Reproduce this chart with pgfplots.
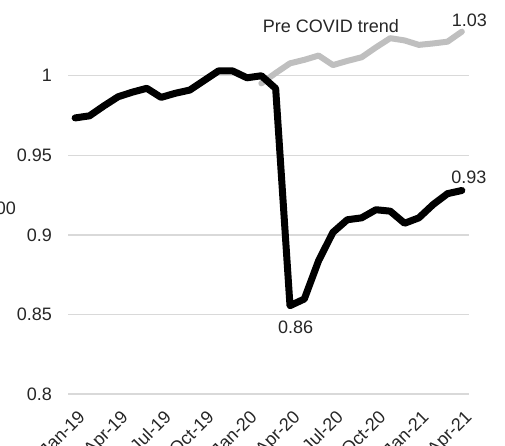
\documentclass[border=0pt]{standalone}
\usepackage{pgfplots}
\pgfplotsset{compat=1.18}
\usepackage{fontspec}
\setmainfont{Liberation Sans}

\definecolor{gridGray}{HTML}{D9D9D9}
\definecolor{trendGray}{HTML}{BFBFBF}
\definecolor{txt}{HTML}{262626}

\begin{document}
\begin{tikzpicture}
\begin{axis}[
  at={(68pt,51pt)}, anchor=south west,
  scale only axis,
  width=401pt, height=394pt,
  xmin=-0.5, xmax=27.5,
  ymin=0.8, ymax=1.0476,
  clip=false,
  axis line style={draw=none},
  major tick style={draw=none},
  ymajorgrids,
  major grid style={gridGray, line width=1.5pt},
  ytick={0.8,0.85,0.9,0.95,1},
  yticklabels={0.8,0.85,0.9,0.95,1},
  yticklabel style={anchor=east, inner sep=0pt, xshift=-16pt, text=txt},
  xtick={0,3,...,27},
  xticklabels={Jan-19,Apr-19,Jul-19,Oct-19,Jan-20,Apr-20,Jul-20,Oct-20,Jan-21,Apr-21},
  xticklabel style={xshift=2pt, yshift=-15pt, rotate=45, anchor=north east, inner sep=0pt, text=txt},
  font=\fontsize{18}{21}\selectfont,
]

% pre-COVID trend (grey)
\addplot[trendGray, line width=6pt, line join=round, line cap=round] coordinates {
  (13,0.9952) (14,1.0017) (15,1.0078) (16,1.0100) (17,1.0127) (18,1.0067)
  (19,1.0093) (20,1.0116) (21,1.0178) (22,1.0236) (23,1.0222) (24,1.0194)
  (25,1.0203) (26,1.0214) (27,1.0277)
};

% actual (black)
\addplot[black, line width=7pt, line join=round, line cap=round] coordinates {
  (0,0.9735) (1,0.9748) (2,0.9810) (3,0.9868) (4,0.9897) (5,0.9921)
  (6,0.9864) (7,0.9890) (8,0.9910) (9,0.9970) (10,1.0030) (11,1.0030)
  (12,0.9987) (13,1.0000) (14,0.9920) (15,0.8555) (16,0.8597) (17,0.8838)
  (18,0.9016) (19,0.9095) (20,0.9107) (21,0.9158) (22,0.9149) (23,0.9073)
  (24,0.9107) (25,0.9191) (26,0.9259) (27,0.9279)
};

% labels
\node[anchor=base west, inner sep=0pt, text=txt] at (axis cs:13.1,1.027) {Pre COVID trend};
\node[anchor=base west, inner sep=0pt, text=txt] at (axis cs:26.29,1.0308) {1.03};
\node[anchor=base west, inner sep=0pt, text=txt] at (axis cs:26.25,0.9324) {0.93};
\node[anchor=base, inner sep=0pt, text=txt] at (axis cs:15.39,0.8381) {0.86};
\node[anchor=base east, inner sep=0pt, text=txt] at (axis cs:-4.13,0.9125) {1.00};

\end{axis}
\pgfresetboundingbox
\useasboundingbox (0,0) rectangle (505pt,445pt);
\end{tikzpicture}
\end{document}
